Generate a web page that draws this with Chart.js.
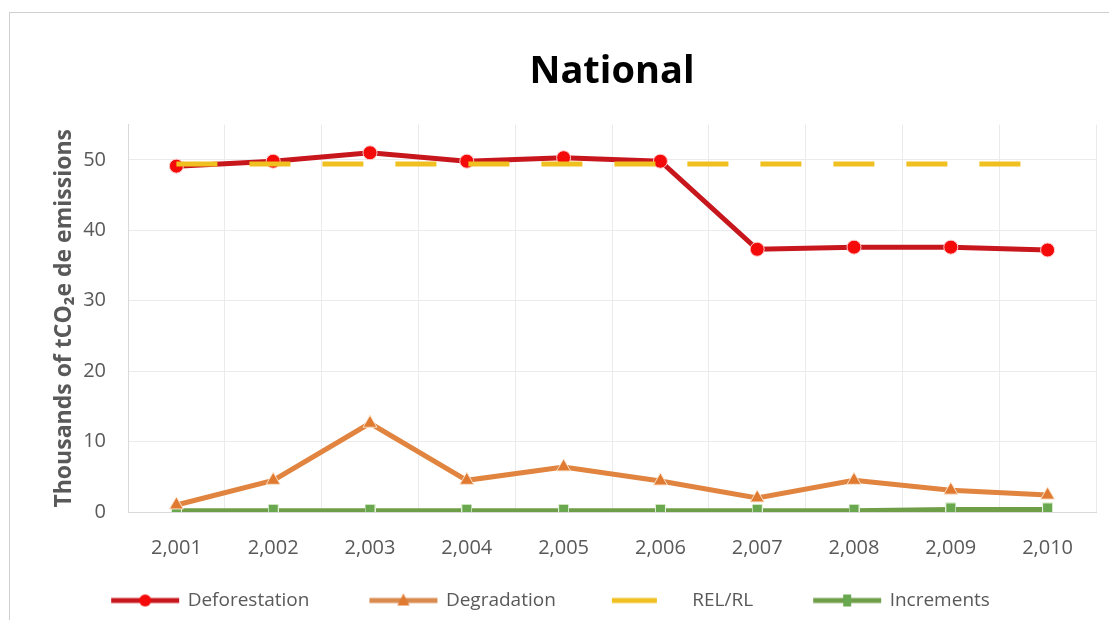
<!DOCTYPE html>
<html>
<head>
<meta charset="utf-8">
<script src="https://cdn.jsdelivr.net/npm/chart.js@4"></script>
<style>
  html, body { margin: 0; padding: 0; background: #fff; }
  #wrap { position: relative; width: 1109px; height: 620px; }
  #frame { position: absolute; left: 9px; top: 12px; right: 0; bottom: 0; border-top: 1px solid #cfcfcf; border-left: 1px solid #cfcfcf; }
  canvas { position: absolute; left: 0; top: 0; }
</style>
</head>
<body>
<div id="wrap">
  <div id="frame"></div>
  <canvas id="chart" width="1109" height="620"></canvas>
</div>
<script>
// Chart data
const years = ['2,001', '2,002', '2,003', '2,004', '2,005', '2,006', '2,007', '2,008', '2,009', '2,010'];
const deforestation = [49.1, 49.8, 51.0, 49.8, 50.3, 49.8, 37.3, 37.6, 37.6, 37.2];
const degradation = [1.0, 4.5, 12.6, 4.5, 6.4, 4.4, 2.0, 4.5, 3.1, 2.4];
const relRl = [49.4, 49.4, 49.4, 49.4, 49.4, 49.4, 49.4, 49.4, 49.4, 49.4];
const increments = [0.1, 0.1, 0.1, 0.1, 0.1, 0.1, 0.1, 0.1, 0.3, 0.3];
const yTicks = [0, 10, 20, 30, 40, 50];

Chart.defaults.font.family = "'Open Sans', sans-serif";
Chart.defaults.color = '#595959';

// green markers are a bit taller than wide
function rectMarker(color) {
    const c = document.createElement('canvas');
    c.width = 11; c.height = 15;
    const g = c.getContext('2d');
    g.fillStyle = '#e4f2da';
    g.fillRect(0, 0, 11, 15);
    g.fillStyle = color;
    g.fillRect(1, 1, 9, 13);
    return c;
}

// legend swatch: a line with the marker in the middle (image is centred on the legend box)
function swatch(color, markerColor, marker, x1, x2) {
    const c = document.createElement('canvas');
    c.width = 130; c.height = 20;
    const g = c.getContext('2d');
    g.strokeStyle = color;
    g.lineWidth = 5;
    g.beginPath();
    g.moveTo(x1, 10); g.lineTo(x2, 10);
    g.stroke();
    const mx = (x1 + x2) / 2;
    g.fillStyle = markerColor;
    if (marker === 'circle') {
        g.beginPath(); g.arc(mx, 10, 6, 0, Math.PI * 2); g.fill();
    } else if (marker === 'triangle') {
        g.beginPath(); g.moveTo(mx, 3); g.lineTo(mx + 6, 15); g.lineTo(mx - 6, 15); g.closePath(); g.fill();
    } else if (marker === 'rect') {
        g.fillRect(mx - 4, 4, 8, 12);
    }
    return c;
}

const ctx = document.getElementById('chart').getContext('2d');

new Chart(ctx, {
    type: 'line',
    data: {
        labels: years,
        datasets: [
            {
                label: 'Deforestation',
                data: deforestation,
                borderColor: '#c8161d',
                borderWidth: 5,
                pointStyle: 'circle',
                pointRadius: 7,
                pointBackgroundColor: '#f50a0a',
                pointBorderColor: '#ffc8c8',
                pointBorderWidth: 1,
                swatch: swatch('#c8161d', '#f50a0a', 'circle', 49, 117)
            },
            {
                label: 'Degradation',
                data: degradation,
                borderColor: '#e0843f',
                borderWidth: 5,
                pointStyle: 'triangle',
                pointRadius: 8,
                pointBackgroundColor: '#e07a30',
                pointBorderColor: '#fbe0c8',
                pointBorderWidth: 1,
                swatch: swatch('#d98a4e', '#e07a30', 'triangle', 49, 117)
            },
            {
                label: 'REL/RL',
                data: relRl,
                order: -1,
                borderColor: '#f0c020',
                borderWidth: 5,
                borderDash: [41, 32],
                pointRadius: 0,
                swatch: swatch('#f0c020', '#f0c020', null, 45, 90)
            },
            {
                label: 'Increments',
                data: increments,
                borderColor: '#6f9e48',
                borderWidth: 6,
                pointStyle: rectMarker('#6aa84f'),
                pointRadius: 7,
                swatch: swatch('#6f9e48', '#6aa84f', 'rect', 49, 117)
            }
        ]
    },
    options: {
        responsive: false,
        animation: false,
        layout: {
            // negative left padding moves the centred legend left while the y axis keeps the plot at x=128
            padding: { left: -38, right: 5, top: 49, bottom: 0 }
        },
        plugins: {
            title: {
                display: true,
                fullSize: false,
                text: 'National',
                color: '#000',
                font: { size: 38, weight: 'bold' },
                padding: { top: 0, bottom: 30 }
            },
            legend: {
                position: 'bottom',
                labels: {
                    usePointStyle: true,
                    pointStyleWidth: 102,
                    padding: 25,
                    color: '#595959',
                    font: { size: 19 },
                    generateLabels: function (chart) {
                        return chart.data.datasets.map(function (ds, i) {
                            return {
                                text: ds.label,
                                pointStyle: ds.swatch,
                                fillStyle: ds.borderColor,
                                strokeStyle: ds.borderColor,
                                fontColor: '#595959',
                                lineWidth: 0,
                                hidden: false,
                                datasetIndex: i
                            };
                        });
                    }
                }
            },
            tooltip: { enabled: false }
        },
        scales: {
            x: {
                offset: true,
                grid: {
                    offset: true,
                    color: '#ebebeb',
                    drawTicks: false
                },
                border: { color: '#d9d9d9' },
                ticks: {
                    padding: 24,
                    font: { size: 20 }
                },
                afterFit: function (scale) { scale.height = 54; }
            },
            y: {
                min: 0,
                max: 55,
                afterBuildTicks: function (scale) {
                    scale.ticks = yTicks.map(function (v) { return { value: v }; });
                },
                grid: {
                    color: '#ebebeb',
                    drawTicks: false
                },
                border: { color: '#d9d9d9' },
                ticks: {
                    padding: 22,
                    font: { size: 20 }
                },
                title: {
                    display: true,
                    text: 'Thousands of tCO\u2082e de emissions',
                    color: '#595959',
                    font: { size: 23, weight: 'bold' },
                    padding: { top: 89, bottom: 0 }
                },
                afterFit: function (scale) { scale.width = 166; }
            }
        }
    }
});
</script>
</body>
</html>
